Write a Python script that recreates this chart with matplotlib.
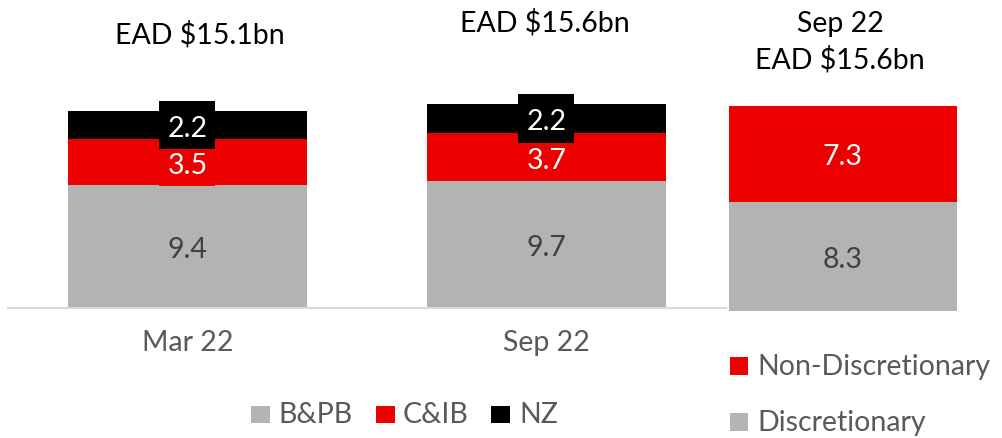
import matplotlib
matplotlib.use("Agg")
import matplotlib.pyplot as plt
from matplotlib.patches import Rectangle
import numpy as np

plt.rcParams['font.family'] = ['Lato', 'DejaVu Sans']

# ---- data ----
periods = ["Mar 22", "Sep 22"]
bpb = [9.4, 9.7]
cib = [3.5, 3.7]
nz = [2.2, 2.2]
ead_titles = ["EAD $15.1bn", "EAD $15.6bn"]

split_period = "Sep 22"
split_title = "EAD $15.6bn"
discretionary = [8.3]
non_discretionary = [7.3]

GREY = "#b3b3b3"
RED = "#ec0000"
BLACK = "#000000"
TXT = "#595959"
LBL_DARK = "#404040"

W, H = 1002, 438
fig = plt.figure(figsize=(W / 100, H / 100), dpi=100)


def fx(px):
    return px / W


def fy(py):
    return 1 - py / H


FS = 20.5
BASE_DROP = -8.5  # points from segment centre down to the label baseline


def value_label(axis, xc, yc, value, color, box=None, z=5,
                px_per_x=1.0, px_per_y=1.0):
    """Write a segment value; optionally on a filled box centred on the segment."""
    if box is not None:
        bw = 56 / px_per_x
        bh = 48.5 / px_per_y
        axis.add_patch(Rectangle((xc - bw / 2, yc - bh / 2), bw, bh,
                                 fc=box, ec="none", zorder=z))
    axis.annotate(f"{value:.1f}", (xc, yc), xytext=(0, BASE_DROP),
                  textcoords="offset points", ha="center", va="baseline",
                  fontsize=FS, color=color, zorder=z + 0.5)


# ---- left chart: EAD by division ----
base_l = 307.7
scale_l = 13.05
left_px, right_px = 8, 726
ax = fig.add_axes([fx(left_px), fy(base_l), fx(right_px - left_px), 20 * scale_l / H])
x = np.arange(len(periods))
width = 0.666
bot2 = np.array(bpb)
bot3 = bot2 + np.array(cib)
b1 = ax.bar(x, bpb, width, color=GREY, label="B&PB")
b2 = ax.bar(x, cib, width, bottom=bot2, color=RED, label="C&IB")
b3 = ax.bar(x, nz, width, bottom=bot3, color=BLACK, label="NZ")
ax.set_xlim(-0.5, 1.5)
ax.set_ylim(0, 20)
ppx = (right_px - left_px) / 2.0

for i in range(len(periods)):
    value_label(ax, x[i], bpb[i] / 2, bpb[i], LBL_DARK)
    value_label(ax, x[i], bot2[i] + cib[i] / 2, cib[i], "white", box=RED, z=5,
                px_per_x=ppx, px_per_y=scale_l)
    value_label(ax, x[i], bot3[i] + nz[i] / 2, nz[i], "white", box=BLACK, z=7,
                px_per_x=ppx, px_per_y=scale_l)

ax.set_xticks(x)
ax.set_xticklabels(periods, fontsize=FS, color=TXT)
ax.tick_params(axis="x", length=0, pad=16)
ax.set_yticks([])
for s in ["top", "left", "right"]:
    ax.spines[s].set_visible(False)
ax.spines["bottom"].set_color("#d9d9d9")
ax.spines["bottom"].set_linewidth(1.5)
ax.patch.set_alpha(0)

# ---- right chart: discretionary split ----
base_r = 310.7
scale_r = 13.15
ax2 = fig.add_axes([fx(729), fy(base_r), fx(957 - 729), 20 * scale_r / H])
r1 = ax2.bar([0], discretionary, 1.0, color=GREY, label="Discretionary")
r2 = ax2.bar([0], non_discretionary, 1.0, bottom=discretionary, color=RED,
             label="Non-Discretionary")
ax2.set_xlim(-0.5, 0.5)
ax2.set_ylim(0, 20)
value_label(ax2, 0, discretionary[0] / 2, discretionary[0], LBL_DARK)
value_label(ax2, 0, discretionary[0] + non_discretionary[0] / 2,
            non_discretionary[0], "white")
ax2.axis("off")

# ---- titles ----
fig.text(fx(200), fy(43.3), ead_titles[0], ha="center", va="baseline",
         fontsize=FS, color="black")
fig.text(fx(545), fy(31.7), ead_titles[1], ha="center", va="baseline",
         fontsize=FS, color="black")
fig.text(fx(840), fy(31.7), split_period, ha="center", va="baseline",
         fontsize=FS, color="black")
fig.text(fx(840), fy(68.3), split_title, ha="center", va="baseline",
         fontsize=FS, color="black")


# ---- legends ----
def legend_item(sq_x, sq_y, sq_w, sq_h, color, text_x, base_y, label):
    fig.add_artist(Rectangle((fx(sq_x), fy(sq_y + sq_h)), fx(sq_w), sq_h / H,
                             transform=fig.transFigure, fc=color, ec="none"))
    fig.text(fx(text_x), fy(base_y), label, ha="left", va="baseline",
             fontsize=FS, color=TXT)


for cont, sx, tx in [(b1, 251, 278), (b2, 376, 403), (b3, 491, 519)]:
    legend_item(sx, 406, 19, 17, cont.patches[0].get_facecolor(), tx, 423.3,
                cont.get_label())

legend_item(730, 357, 18, 18, r2.patches[0].get_facecolor(), 757, 375,
            r2.get_label())
legend_item(730, 413, 18, 18, r1.patches[0].get_facecolor(), 757, 431.5,
            r1.get_label())

fig.savefig("out.png", dpi=100, facecolor="white")
